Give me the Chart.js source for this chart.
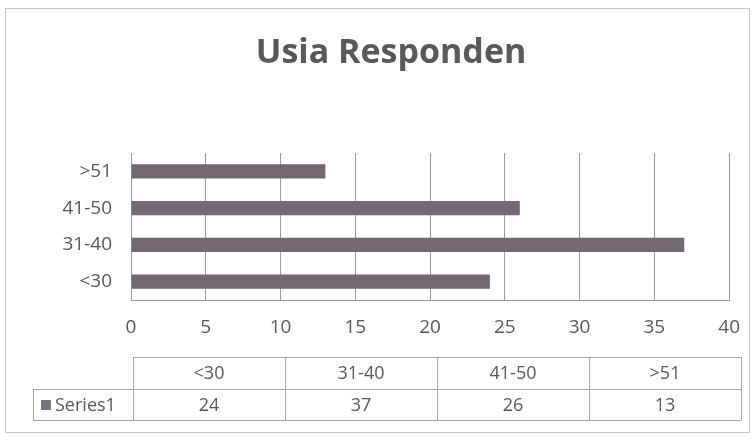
<!DOCTYPE html>
<html>
<head>
<meta charset="utf-8">
<script src="https://cdn.jsdelivr.net/npm/chart.js@4/dist/chart.umd.min.js"></script>
<style>
html,body{margin:0;padding:0;background:#fff;}
#wrap{position:relative;width:756px;height:442px;}
canvas{display:block;}
</style>
</head>
<body>
<div id="wrap"><canvas id="c" width="756" height="442"></canvas></div>
<script>
const categories = ['<30', '31-40', '41-50', '>51'];
const values = [24, 37, 26, 13];
const seriesName = 'Series1';
const titleText = 'Usia Responden';
const xMin = 0, xMax = 40, xStep = 5;

const FONT = '"Open Sans", sans-serif';
const TEXT = '#595959';
const BAR = '#736973';

const framePlugin = {
  id: 'frame',
  beforeDraw(chart) {
    const ctx = chart.ctx;
    ctx.save();
    ctx.strokeStyle = '#c8c8c8';
    ctx.lineWidth = 1;
    ctx.strokeRect(5.5, 8.5, 744, 424);
    ctx.restore();
  },
  afterDraw(chart) {
    const ctx = chart.ctx;
    const area = chart.chartArea;
    ctx.save();
    // title
    ctx.fillStyle = TEXT;
    ctx.font = 'bold 34px ' + FONT;
    ctx.textAlign = 'center';
    ctx.textBaseline = 'middle';
    ctx.fillText(titleText, 391, 53);

    // data table
    const top = 357, mid = 389, bot = 420;
    const left = area.left + 2, right = 741;
    const labelLeft = 33;
    const colW = (right - left) / categories.length;
    ctx.strokeStyle = '#a6a6a6';
    ctx.lineWidth = 1;
    ctx.beginPath();
    ctx.moveTo(left, top + 0.5); ctx.lineTo(right, top + 0.5);
    ctx.moveTo(labelLeft, mid + 0.5); ctx.lineTo(right, mid + 0.5);
    ctx.moveTo(labelLeft, bot + 0.5); ctx.lineTo(right, bot + 0.5);
    ctx.moveTo(labelLeft + 0.5, mid); ctx.lineTo(labelLeft + 0.5, bot);
    for (let i = 0; i <= categories.length; i++) {
      const x = Math.round(left + i * colW) + 0.5;
      ctx.moveTo(x, top); ctx.lineTo(x, bot);
    }
    ctx.stroke();

    ctx.font = '18px ' + FONT;
    ctx.fillStyle = TEXT;
    ctx.textAlign = 'center';
    ctx.textBaseline = 'middle';
    categories.forEach((c, i) => {
      const cx = left + (i + 0.5) * colW;
      ctx.fillText(c, cx, (top + mid) / 2 + 1);
      ctx.fillText(String(values[i]), cx, (mid + bot) / 2 + 1);
    });
    // legend key
    ctx.fillStyle = '#7a7480';
    ctx.fillRect(41, 400, 10, 10);
    ctx.fillStyle = TEXT;
    ctx.textAlign = 'left';
    ctx.fillText(seriesName, 55, (mid + bot) / 2 + 1);
    ctx.restore();
  }
};

new Chart(document.getElementById('c'), {
  type: 'bar',
  data: {
    labels: categories,
    datasets: [{
      label: seriesName,
      data: values,
      backgroundColor: BAR,
      borderWidth: 0,
      categoryPercentage: 1.0,
      barPercentage: 0.39
    }]
  },
  options: {
    indexAxis: 'y',
    responsive: false,
    animation: false,
    devicePixelRatio: 1,
    layout: { padding: { left: 0, right: 26, top: 153, bottom: 92 } },
    plugins: {
      legend: { display: false },
      title: { display: false },
      tooltip: { enabled: false }
    },
    scales: {
      x: {
        min: xMin, max: xMax,
        ticks: { stepSize: xStep, color: TEXT, font: { family: FONT, size: 19 }, padding: 16 },
        grid: { color: '#9a9a9a', lineWidth: 1, drawTicks: false },
        border: { display: true, color: '#9a9a9a' },
        afterFit(s) { s.height = 50; }
      },
      y: {
        reverse: true,
        ticks: { color: TEXT, font: { family: FONT, size: 19 }, padding: 19 },
        grid: { display: false, drawTicks: false },
        border: { display: true, color: '#9a9a9a' },
        afterFit(s) { s.width = 131; }
      }
    }
  },
  plugins: [framePlugin]
});
</script>
</body>
</html>
